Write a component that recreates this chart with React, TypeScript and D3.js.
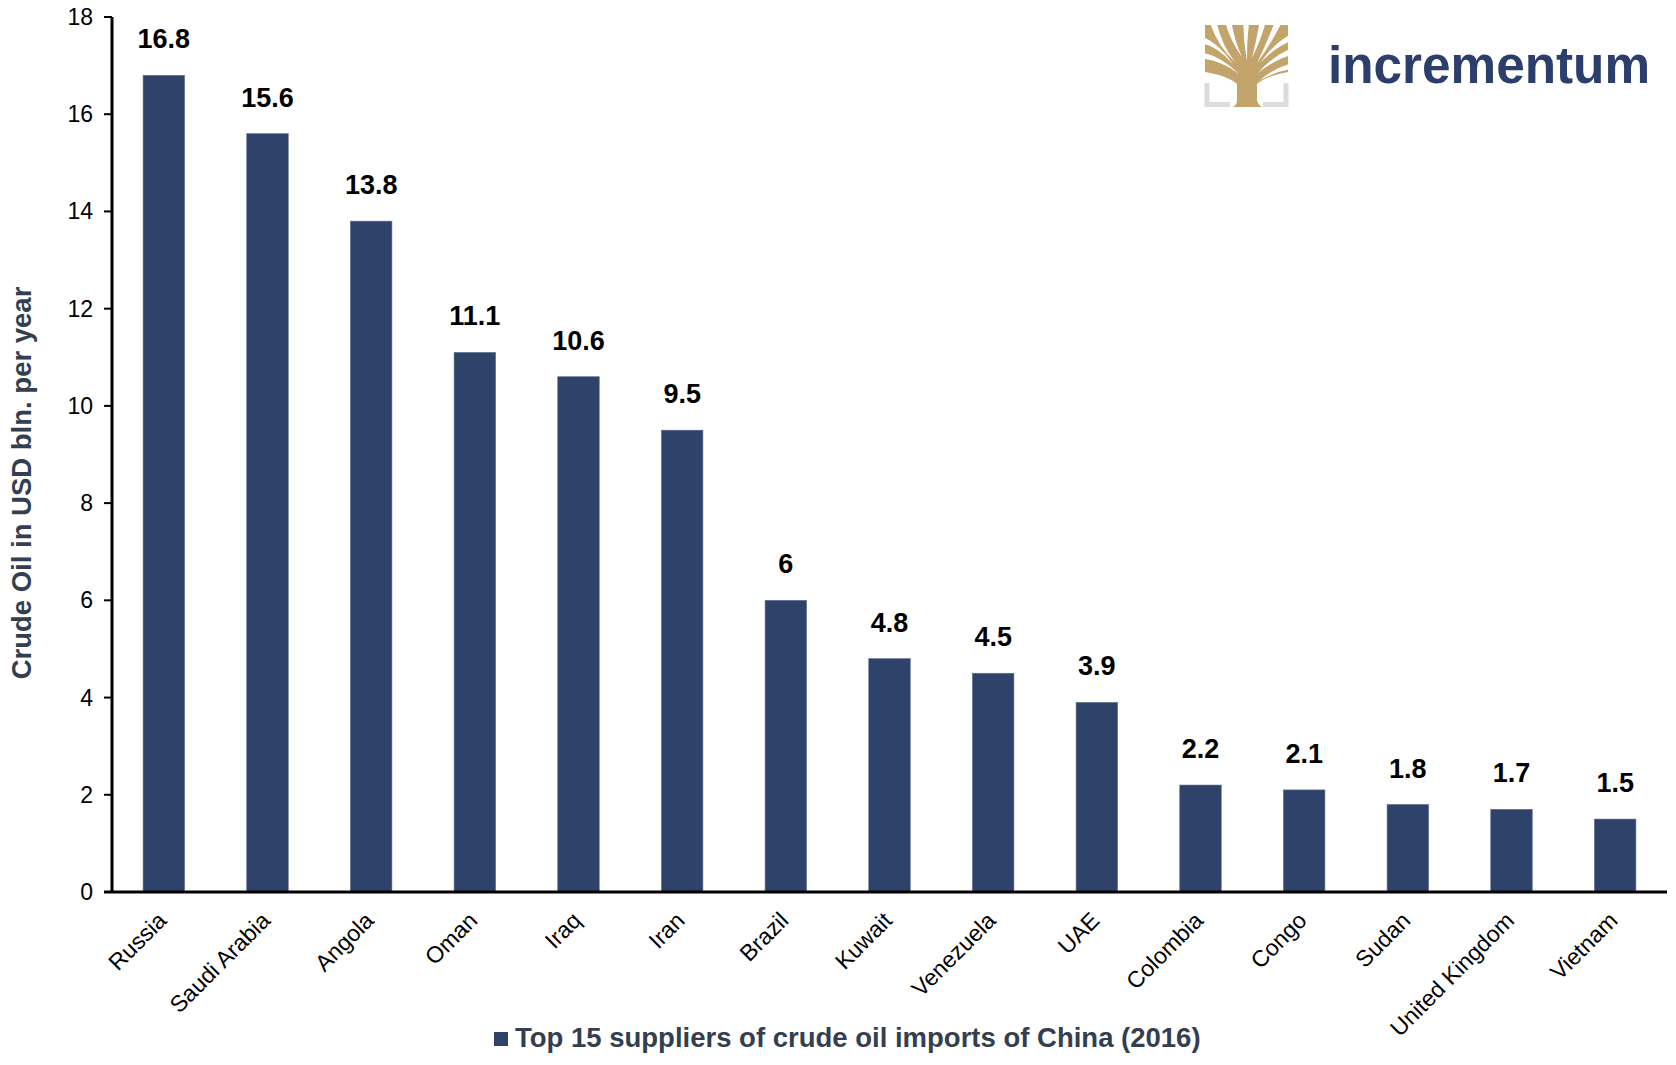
import React, { useEffect } from "react";
import * as d3 from "d3";

const categories = [
  "Russia", "Saudi Arabia", "Angola", "Oman", "Iraq", "Iran", "Brazil", "Kuwait",
  "Venezuela", "UAE", "Colombia", "Congo", "Sudan", "United Kingdom", "Vietnam",
];
const values = [16.8, 15.6, 13.8, 11.1, 10.6, 9.5, 6, 4.8, 4.5, 3.9, 2.2, 2.1, 1.8, 1.7, 1.5];
const yTicks = [0, 2, 4, 6, 8, 10, 12, 14, 16, 18];
const seriesName = "Top 15 suppliers of crude oil imports of China (2016)";
const yTitle = "Crude Oil in USD bln. per year";

const W = 1676;
const H = 1065;
const left = 112;
const right = 1667;
const top = 17;
const bottom = 892;
const barColor = "#2f426a";
const slate = "#333f50";
const font = "'Liberation Sans', Arial, sans-serif";

type Cut = [number, number, number, number, number, number, number];
// edge x, edge y, ctrl x, ctrl y, tip x, tip y, half width
const logoCuts: Cut[] = [
  [1214, 25, 1220, 46, 1235, 62, 3.2],
  [1229, 25, 1233, 42, 1242, 57, 3.0],
  [1246, 25, 1245, 42, 1247, 61, 2.8],
  [1262, 25, 1258, 42, 1252, 58, 3.0],
  [1277, 25, 1268, 45, 1257, 63, 3.2],
  [1205, 41, 1218, 45, 1233, 64, 3.0],
  [1205, 56, 1222, 59, 1239, 74, 3.0],
  [1288, 39, 1275, 45, 1260, 63, 3.0],
  [1288, 53, 1272, 59, 1258, 73, 3.0],
  [1288, 67, 1272, 71, 1259, 81, 2.6],
];

function wedge([ex, ey, cx, cy, tx, ty, w]: Cut) {
  const dx = cx - ex, dy = cy - ey;
  const len = Math.hypot(dx, dy) || 1;
  const nx = (-dy / len) * w, ny = (dx / len) * w;
  const ox = (-dx / len) * 2, oy = (-dy / len) * 2;
  return `M${ex + nx + ox},${ey + ny + oy} Q${cx + nx * 0.6},${cy + ny * 0.6} ${tx},${ty} Q${cx - nx * 0.6},${cy - ny * 0.6} ${ex - nx + ox},${ey - ny + oy} Z`;
}

function Logo() {
  const gold = "#c3a56b";
  const gray = "#dcdcdd";
  return (
    <g>
      <path
        d="M1205,25 H1288 V72 Q1266,76 1257,84 L1257,100 Q1258,105 1262,107 H1233 Q1237,105 1237,100 L1237,84 Q1228,76 1205,72 Z"
        fill={gold}
      />
      {logoCuts.map((c, i) => (
        <path key={i} d={wedge(c)} fill="#fff" />
      ))}
      <path d="M1207,83 V104.5 H1230" fill="none" stroke={gray} strokeWidth={5} />
      <path d="M1286,83 V104.5 H1263" fill="none" stroke={gray} strokeWidth={5} />
      <text
        x={1328}
        y={83}
        fontFamily={font}
        fontWeight="bold"
        fontSize={51}
        fill="#2c3e6b"
        textLength={322}
        lengthAdjust="spacingAndGlyphs"
      >
        incrementum
      </text>
    </g>
  );
}

export default function App() {
  useEffect(() => {
    document.body.style.margin = "0";
  }, []);

  const x = d3.scaleBand<string>().domain(categories).range([left, right]).paddingInner(0.6).paddingOuter(0.3);
  const y = d3.scaleLinear().domain([0, 18]).range([bottom, top]);

  return (
    <svg width={W} height={H} style={{ position: "absolute", left: 0, top: 0, background: "#fff" }}>
      <rect x={0} y={0} width={W} height={H} fill="#fff" />
      {categories.map((c, i) => (
        <rect
          key={c}
          x={x(c)}
          y={y(values[i])}
          width={x.bandwidth()}
          height={y(0) - y(values[i])}
          fill={barColor}
          stroke="#5a6a8c"
          strokeWidth={0.6}
        />
      ))}
      {categories.map((c, i) => (
        <text
          key={c + "v"}
          x={(x(c) as number) + x.bandwidth() / 2}
          y={y(values[i]) - 27}
          textAnchor="middle"
          fontFamily={font}
          fontWeight="bold"
          fontSize={27}
          fill="#000"
        >
          {String(values[i])}
        </text>
      ))}
      <line x1={left} x2={left} y1={top} y2={bottom} stroke="#000" strokeWidth={3} />
      {yTicks.map((t) => (
        <g key={t}>
          <line x1={left - 8} x2={left} y1={y(t)} y2={y(t)} stroke="#000" strokeWidth={2} />
          <text
            x={93}
            y={y(t)}
            dy="0.35em"
            textAnchor="end"
            fontFamily={font}
            fontSize={23}
            fill="#000"
          >
            {t}
          </text>
        </g>
      ))}
      <line x1={left - 8} x2={right} y1={bottom} y2={bottom} stroke="#000" strokeWidth={3} />
      {categories.map((c) => {
        const cx = (x(c) as number) + x.bandwidth() / 2 + 4;
        return (
          <text
            key={c + "l"}
            transform={`translate(${cx},922) rotate(-45)`}
            textAnchor="end"
            fontFamily={font}
            fontSize={23}
            fill="#000"
          >
            {c}
          </text>
        );
      })}
      <text
        transform={`translate(31,483) rotate(-90)`}
        textAnchor="middle"
        fontFamily={font}
        fontWeight="bold"
        fontSize={27.5}
        fill={slate}
      >
        {yTitle}
      </text>
      <rect x={494} y={1032} width={14} height={14} fill={barColor} />
      <text x={515} y={1047} fontFamily={font} fontWeight="bold" fontSize={27.5} fill={slate}>
        {seriesName}
      </text>
      <Logo />
    </svg>
  );
}
